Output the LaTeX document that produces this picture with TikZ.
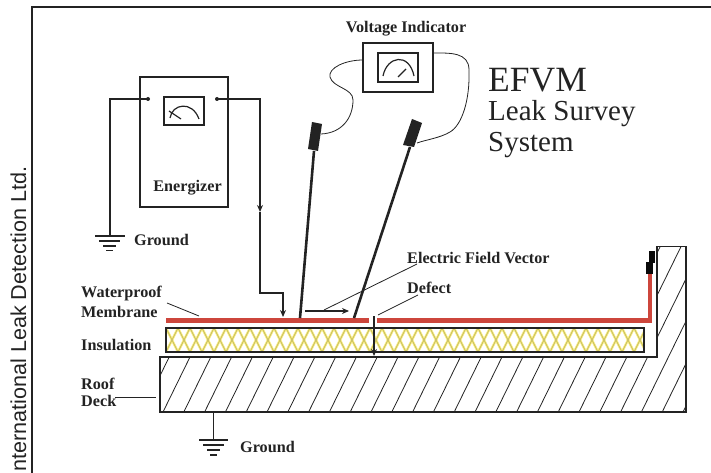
\documentclass[tikz,border=0pt]{standalone}
\usepackage{fontspec}
\setmainfont{Liberation Serif}
\newfontfamily\sansf{Liberation Sans}
\usetikzlibrary{arrows.meta}
\definecolor{memb}{RGB}{205,70,60}
\definecolor{insY}{RGB}{244,232,120}
\definecolor{ink}{RGB}{35,35,35}
\tikzset{
  wire/.style={draw=ink,line width=1.4pt},
  heavy/.style={draw=ink,line width=1.8pt},
  thinw/.style={draw=ink,line width=0.8pt},
  box/.style={draw=ink,line width=1.5pt},
  lab/.style={font=\bfseries\fontsize{16.2pt}{17pt}\selectfont,text=ink,inner sep=0pt,align=left},
  tip/.style={-{Stealth[length=7pt,width=6pt]}},
  probe/.style={draw=ink,line width=2.6pt},
}
\begin{document}
\begin{tikzpicture}[x=1pt,y=-1pt]
\useasboundingbox (0,0) rectangle (711,473);
% frame
\coordinate (fa) at (32,473);\coordinate (fb) at (32,7);\coordinate (fc) at (711,7);
\draw[ink,line width=2pt] (fa) -- (fb) -- (fc);
\node[rotate=90,anchor=west,font=\sansf\fontsize{21.6pt}{23pt}\selectfont,text=ink,inner sep=0pt] (credit) at (18.5,472) {nternational Leak Detection Ltd.};
% roof deck hatch
\begin{scope}
\clip (160,357) -- (657,357) -- (657,246) -- (686,246) -- (686,412) -- (160,412) -- cycle;
\foreach \i in {-2,...,26} \draw[thinw] (163+\i*20.8,412) -- ++(81,-165);
\end{scope}
\draw[box,line width=1.2pt] (160,357) -- (657,357) -- (657,246.5) -- (686,246.5) -- (686,412) -- (160,412) -- cycle;
% insulation
\begin{scope}
\clip (166,328) rectangle (644,352);
\foreach \i in {-2,...,42} {
 \draw[draw=insY,line width=2.4pt] (166+\i*12,352) -- ++(12,-24);
 \draw[draw=insY,line width=2.4pt] (166+\i*12,328) -- ++(12,24);
}
\foreach \i in {-2,...,42} {
 \draw[draw=ink!35!insY,line width=0.3pt] (166+\i*12,352) -- ++(12,-24);
 \draw[draw=ink!35!insY,line width=0.3pt] (166+\i*12,328) -- ++(12,24);
}
\end{scope}
\draw[ink,line width=1.1pt] (166,328) rectangle (644,352);
% membrane
\fill[memb] (166,318) rectangle (369,323);
\fill[memb] (377,318) rectangle (652,323);
\fill[memb] (648,270) rectangle (652,323);
\fill[ink!30!black] (649,251) rectangle (655,263);
\fill[ink!30!black] (646,262) rectangle (653,274);
% energizer
\draw[box] (140,77) rectangle (228,207);
\draw[box,line width=1.3pt] (164,97) rectangle (204,125);
\draw[ink,line width=1.2pt] (170,118) .. controls (172,104) and (192,100) .. (199,119);
\draw[ink,line width=1.2pt] (169,111) -- (181,119);
\node[lab] (energ) at (187.5,188) {Energizer};
% Energizer wires
\coordinate (e1) at (148,99);\coordinate (e2) at (217,99);
\fill[ink] (e1) circle (2);\fill[ink] (e2) circle (2);
\coordinate (g1) at (110,236);
\draw[wire] (e1) -- (110,99) -- (g1);
\draw[ink,line width=1.2pt] (95,236) -- (124.5,236) (99,241) -- (120,241) (103,246) -- (116,246) (106,250.5) -- (113,250.5);
\node[lab,anchor=west] (gr1) at (134,240) {Ground};
\coordinate (a1) at (260,212);
\draw[wire,tip] (e2) -- (260,99) -- (a1);
\coordinate (a2) at (283,317);
\draw[heavy,tip] (a1) -- (260,293) -- (283,293) -- (a2);
% Voltage indicator
\node[lab] (vi) at (406,29) {Voltage Indicator};
\draw[box] (363,43) rectangle (433,92);
\draw[box,line width=1.3pt] (378,53) rectangle (418,82);
\draw[ink,line width=1.2pt] (383,76) .. controls (387,56) and (409,52) .. (414,76);
\draw[ink,line width=1.2pt] (398,77) -- (406,69);
% probes
\fill[ink] (312,122) -- (322,124) -- (318,151) -- (308,149) -- cycle;
\draw[probe] (314,151) -- (300,318);
\fill[ink] (412,119) -- (422,123) -- (414,147) -- (403,145) -- cycle;
\draw[probe] (410,147) -- (354,318);
% voltage wires
\draw[thinw] (363,60) .. controls (345,60) and (328,68) .. (330,77) .. controls (333,88) and (353,88) .. (353,100) .. controls (353,118) and (342,133) .. (321,134);
\draw[thinw] (433,53) .. controls (450,53) and (469,52) .. (469,70) .. controls (470,100) and (462,125) .. (450,132) .. controls (440,138) and (425,140) .. (417,143);
% EFVM
\node[anchor=west,inner sep=0pt,font=\fontsize{35.5pt}{36pt}\selectfont,text=ink] (t1) at (488,80) {EFVM};
\node[anchor=west,inner sep=0pt,font=\fontsize{29pt}{29pt}\selectfont,text=ink] (t2) at (488,114) {Leak Survey};
\node[anchor=west,inner sep=0pt,font=\fontsize{29pt}{29pt}\selectfont,text=ink] (t3) at (488,145) {System};
% labels
\node[lab,anchor=west] (efv) at (407,258) {Electric Field Vector};
\node[lab,anchor=west] (def) at (407,288) {Defect};
\node[lab,anchor=west] (wp) at (81,294) {Waterproof};
\node[lab,anchor=west] (mb) at (81,312) {Membrane};
\node[lab,anchor=west] (ins) at (81,345) {Insulation};
\node[lab,anchor=west] (rf) at (81,384) {Roof};
\node[lab,anchor=west] (dk) at (81,401) {Deck};
\node[lab,anchor=west] (gr2) at (240,447) {Ground};
% leaders
\draw[thinw] (167,303) -- (199,316);
\draw[thinw] (115,397) -- (156,397);
\draw[thinw] (417,264) -- (324,310);
\draw[thinw] (418,295) -- (378,315);
% vector arrow
\draw[heavy,tip] (305,311) -- (349,311);
% defect arrow
\draw[heavy,tip] (374,316) -- (374,356);
% ground 2
\draw[ink,line width=1.2pt] (213.5,412) -- (213.5,440);
\draw[ink,line width=1.2pt] (199,440) -- (228,440) (203,445) -- (224,445) (207,450) -- (220,450) (210,455) -- (217,455);
\end{tikzpicture}
\end{document}
